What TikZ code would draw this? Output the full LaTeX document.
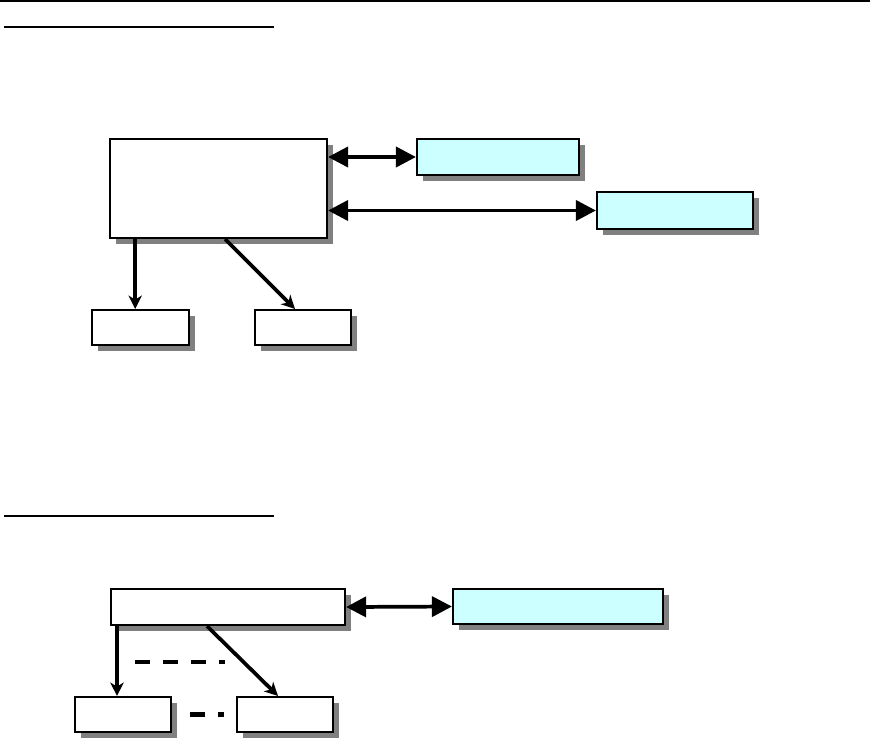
\documentclass[tikz,border=0pt]{standalone}
\usepackage{tikz}
\usetikzlibrary{positioning,shadows,arrows.meta}
\usepackage{xcolor}
\definecolor{lightcyan}{HTML}{CCFFFF}
\definecolor{shadowgray}{HTML}{808080}

\begin{document}
\begin{tikzpicture}[
    x=0.75pt, y=-0.75pt,
    box/.style={rectangle, draw=black, fill=white, line width=1.6pt, inner sep=0pt,
        drop shadow={shadow xshift=4.5pt, shadow yshift=-4.5pt, fill=shadowgray, opacity=1}},
    unit/.style={box, fill=lightcyan},
    link/.style={{Triangle[length=15pt,width=15pt]}-{Triangle[length=15pt,width=15pt]}, line width=2.8pt},
    arrow/.style={-{Stealth[length=10pt,width=10pt,inset=3pt]}, line width=2.8pt},
    rule/.style={line width=1.2pt},
    gap/.style={line width=3.2pt, dash pattern=on 11.5pt off 9.5pt}
]
\useasboundingbox (0,0) rectangle (870,740);

% Rules
\coordinate (topl) at (0,1);
\coordinate (topr) at (870,1);
\coordinate (ula) at (4,27);
\coordinate (ulb) at (274,27);
\coordinate (lla) at (4,516);
\coordinate (llb) at (274,516);
\draw[rule] (topl) -- (topr);
\draw[rule] (ula) -- (ulb);
\draw[rule] (lla) -- (llb);

% Nodes (upper)
\node[box, minimum width=162.75pt, minimum height=74.25pt] (main) at (218.5,188.5) {};
\node[box, minimum width=72.75pt, minimum height=26.25pt] (subA) at (140.5,327.5) {};
\node[box, minimum width=72pt, minimum height=26.25pt] (subB) at (303,327.5) {};
\node[unit, minimum width=121.5pt, minimum height=27pt] (peerA) at (498,157) {};
\node[unit, minimum width=117pt, minimum height=27.75pt] (peerB) at (675,210.5) {};

% Nodes (lower)
\node[box, minimum width=175.5pt, minimum height=27pt] (core) at (228,607) {};
\node[box, minimum width=72pt, minimum height=26.25pt] (leafA) at (123,714.5) {};
\node[box, minimum width=72pt, minimum height=26.25pt] (leafB) at (285,714.5) {};
\node[unit, minimum width=157.5pt, minimum height=26.25pt] (peerC) at (558,606.5) {};

% Edges
\draw[link] (main.east |- peerA.west) -- (peerA.west);
\draw[link] (main.east |- peerB.west) -- (peerB.west);
\draw[arrow] ([xshift=-4pt]subA.north |- main.south) -- ([xshift=-4pt]subA.north);
\draw[arrow] ([xshift=5pt]main.south) -- ([xshift=-6pt]subB.north);

\draw[link] (core.east) -- (peerC.west);
\draw[arrow] ([xshift=-4.5pt]leafA.north |- core.south) -- ([xshift=-4.5pt]leafA.north);
\draw[arrow] ([xshift=-15.75pt]core.south) -- ([xshift=-5.25pt]leafB.north);

% Dashes
\coordinate (dashA) at (135,662);
\coordinate (dashB) at (225,662);
\draw[gap] (dashA) -- (dashB);
\draw[gap] ([xshift=13.5pt]leafA.east) -- ([xshift=-9pt]leafB.west);

\end{tikzpicture}
\end{document}
